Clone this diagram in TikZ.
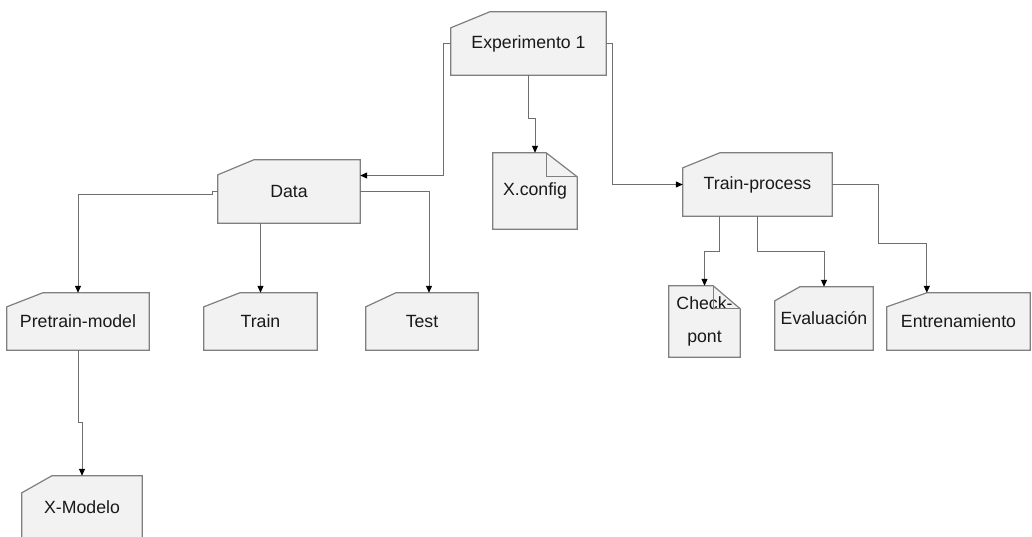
\documentclass[tikz,border=0pt]{standalone}
\usepackage{fontspec}
\setmainfont{Liberation Sans}
\usetikzlibrary{arrows.meta,calc,backgrounds}
\definecolor{boxfill}{HTML}{F2F2F2}
\definecolor{boxline}{HTML}{7F7F7F}
\definecolor{wire}{HTML}{6F6F6F}
\tikzset{
  lbl/.style={rectangle, inner sep=0pt, font=\fontsize{17.7}{21}\selectfont, text=black!90},
  shapeline/.style={draw=boxline, fill=boxfill, line width=1.2pt, line join=miter},
  conn/.style={draw=wire, line width=1pt, -{Stealth[length=7pt,width=6pt,inset=0pt,black]}}
}
\newcommand\cardbox[3]{\draw[shapeline] (#1.south west) -- ($(#1.north west)+(0,#3)$) -- ($(#1.north west)+(#2,0)$) -- (#1.north east) -- (#1.south east) -- cycle;}
\newcommand\notebox[3]{\draw[shapeline] (#1.south west) -- (#1.north west) -- ($(#1.north east)+(-#2,0)$) -- ($(#1.north east)+(0,#3)$) -- (#1.south east) -- cycle;}
\newcommand\notefold[3]{\draw[boxline, line width=1pt] ($(#1.north east)+(-#2,0)$) |- ($(#1.north east)+(0,#3)$);}
\begin{document}
\begin{tikzpicture}[x=1pt,y=-1pt]
\useasboundingbox (0,0) rectangle (1032,537);
\node[lbl, minimum width=155pt, minimum height=63pt] (exp) at (528.5,43.5) {Experimento 1};
\node[lbl, minimum width=142pt, minimum height=63pt] (data) at (289,191.5) {Data};
\node[lbl, minimum width=84pt, minimum height=76pt] (xcfg) at (535,191) {X.config};
\node[lbl, minimum width=149pt, minimum height=63pt] (tproc) at (757.5,184.5) {Train-process};
\node[lbl, minimum width=142pt, minimum height=57pt] (pre) at (78,321.5) {Pretrain-model};
\node[lbl, minimum width=113pt, minimum height=57pt] (train) at (260.5,321.5) {Train};
\node[lbl, minimum width=112pt, minimum height=57pt] (test) at (422,321.5) {Test};
\node[lbl, minimum width=120pt, minimum height=63pt] (xmod) at (82,507.5) {X-Modelo};
\node[lbl, minimum width=71pt, minimum height=71pt, align=center] (ckpt) at (704.5,321.5) {Check-\\[12pt]pont};
\node[lbl, minimum width=98pt, minimum height=63pt] (eval) at (824,318.5) {Evaluación};
\node[lbl, minimum width=143pt, minimum height=57pt] (entr) at (958.5,321.5) {Entrenamiento};
\begin{pgfonlayer}{background}
\cardbox{exp}{39}{16}
\cardbox{data}{36}{15}
\cardbox{tproc}{37}{15}
\cardbox{pre}{36}{14}
\cardbox{train}{36}{14}
\cardbox{test}{30}{14}
\cardbox{xmod}{30}{17}
\cardbox{eval}{25}{14}
\cardbox{entr}{40}{14}
\notebox{xcfg}{31}{24}
\notebox{ckpt}{27}{23}
\end{pgfonlayer}
\notefold{xcfg}{31}{24}
\notefold{ckpt}{27}{23}
\draw[conn] (exp.west) -- ++(-7,0) |- ($(data.east)+(0,-16)$);
\draw[conn] (exp.south) -- ++(0,43) -| (xcfg.north);
\draw[conn] (exp.east) -- ++(6,0) |- (tproc.west);
\draw[conn] (data.west) -- ++(-5,0) -- ++(0,3) -| (pre.north);
\draw[conn] (data.south -| train.north) -- (train.north);
\draw[conn] (data.east) -| ($(test.north)+(7,0)$);
\draw[conn] (pre.south) -- ++(0,72) -| (xmod.north);
\draw[conn] ($(tproc.south west)+(37,0)$) -- ++(0,35) -| (ckpt.north);
\draw[conn] (tproc.south) -- ++(0,35) -| (eval.north);
\draw[conn] (tproc.east) -- ++(46,0) -- ++(0,58.5) -| ($(entr.north west)+(40,0)$);
\end{tikzpicture}
\end{document}
